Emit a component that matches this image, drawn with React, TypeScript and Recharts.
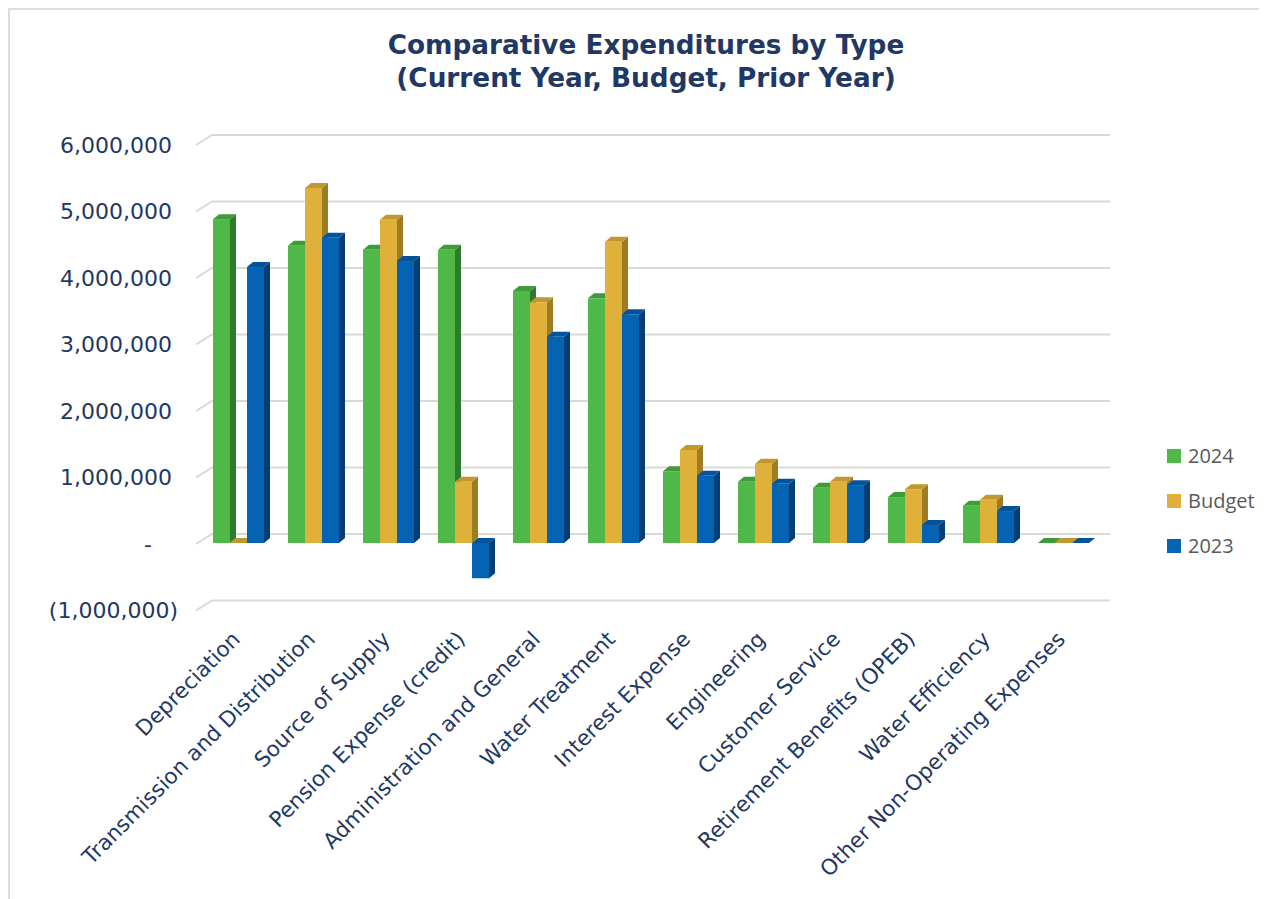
import { BarChart, Bar, XAxis, YAxis, CartesianGrid, Legend } from 'recharts'

const categories = [
  'Depreciation',
  'Transmission and Distribution',
  'Source of Supply',
  'Pension Expense (credit)',
  'Administration and General',
  'Water Treatment',
  'Interest Expense',
  'Engineering',
  'Customer Service',
  'Retirement Benefits (OPEB)',
  'Water Efficiency',
  'Other Non-Operating Expenses',
]

const current2024 = [4870000, 4470000, 4410000, 4410000, 3790000, 3680000, 1080000, 920000, 830000, 690000, 560000, 0]
const budget = [0, 5340000, 4860000, 920000, 3620000, 4530000, 1400000, 1190000, 920000, 810000, 650000, 0]
const prior2023 = [4150000, 4590000, 4240000, -530000, 3100000, 3440000, 1010000, 890000, 870000, 270000, 480000, 0]

const seriesNames = ['2024', 'Budget', '2023']
const seriesColors = ['#50b848', '#e0b13a', '#0563b3']

const yTicks = [-1000000, 0, 1000000, 2000000, 3000000, 4000000, 5000000, 6000000]

const data = categories.map((name, i) => ({
  name,
  current: current2024[i],
  budget: budget[i],
  prior: prior2023[i],
}))

const NAVY = '#1f3864'
const DEPTH_X = 6
const DEPTH_Y = 5

// front / side / top faces for the fake 3D columns
const make3DBar = (front: string, side: string, top: string) => (props: any) => {
  const { x, y, width, height } = props
  const y0 = Math.min(y, y + height)
  const h = Math.abs(height)
  const right = x + width
  const bottom = y0 + h
  return (
    <g>
      <polygon
        points={`${right},${y0} ${right + DEPTH_X},${y0 - DEPTH_Y} ${right + DEPTH_X},${bottom - DEPTH_Y} ${right},${bottom}`}
        fill={side}
      />
      <polygon
        points={`${x},${y0} ${x + DEPTH_X},${y0 - DEPTH_Y} ${right + DEPTH_X},${y0 - DEPTH_Y} ${right},${y0}`}
        fill={top}
      />
      <rect x={x} y={y0} width={width} height={h} fill={front} />
    </g>
  )
}

const formatAccounting = (v: number) => {
  if (v === 0) return '-'
  const s = Math.abs(v).toLocaleString('en-US')
  return v < 0 ? `(${s})` : s
}

const YTick = (props: any) => {
  const { x, y, payload } = props
  const v = payload.value
  const endX = v === 0 ? x - 49 : v < 0 ? x - 23 : x - 29
  return (
    <text x={endX} y={y + 1} dy="0.36em" textAnchor="end" fill={NAVY} fontSize={22} fontFamily="DejaVu Sans">
      {formatAccounting(v)}
    </text>
  )
}

const CategoryTick = (props: any) => {
  const { x, y, payload } = props
  const ax = x + 3
  const ay = y + 23
  return (
    <text
      x={ax}
      y={ay}
      transform={`rotate(-45 ${ax} ${ay})`}
      textAnchor="end"
      fill={NAVY}
      fontSize={21.5}
      fontFamily="DejaVu Sans"
    >
      {payload.value}
    </text>
  )
}

// back-wall gridline with the little diagonal at the left side
const BackGridLine = (props: any) => {
  const { x1, x2, y1 } = props
  return (
    <path
      key={props.key ?? `${y1}`}
      d={`M${x1 - 5},${y1 + 1} L${x1 + 11},${y1 - 9} L${x2 + 9},${y1 - 9}`}
      stroke="#d9d9d9"
      strokeWidth={2}
      fill="none"
    />
  )
}

const LegendContent = () => (
  <div>
    {seriesNames.map((name, i) => (
      <div key={name} style={{ display: 'flex', alignItems: 'center', height: 45 }}>
        <div style={{ width: 14, height: 14, background: seriesColors[i], marginRight: 7 }} />
        <span style={{ fontFamily: 'Open Sans', fontSize: 20, color: '#595959' }}>{name}</span>
      </div>
    ))}
  </div>
)

export default function App() {
  return (
    <div style={{ position: 'relative', width: 1251, height: 891 }}>
      <div
        style={{
          position: 'absolute',
          left: 0,
          top: 0,
          width: 1257,
          height: 900,
          border: '2px solid #dcdcdc',
          boxSizing: 'border-box',
          pointerEvents: 'none',
        }}
      />
      <div
        style={{
          position: 'absolute',
          left: 0,
          top: 21,
          width: 1276,
          textAlign: 'center',
          fontFamily: 'DejaVu Sans',
          fontWeight: 'bold',
          fontSize: 26.3,
          lineHeight: '33px',
          color: NAVY,
        }}
      >
        Comparative Expenditures by Type
        <br />
        (Current Year, Budget, Prior Year)
      </div>
      <BarChart
        width={1251}
        height={891}
        data={data}
        margin={{ top: 136, right: 158, bottom: 0, left: 0 }}
        barCategoryGap="16%"
        barGap={0}
      >
        <CartesianGrid vertical={false} horizontal={BackGridLine} />
        <XAxis
          dataKey="name"
          height={289.5}
          axisLine={false}
          tickLine={false}
          interval={0}
          tick={CategoryTick}
        />
        <YAxis
          width={193}
          domain={[-1000000, 6000000]}
          ticks={yTicks}
          axisLine={false}
          tickLine={false}
          tickSize={0}
          tickMargin={0}
          tick={YTick}
        />
        <Legend
          layout="vertical"
          align="center"
          verticalAlign="middle"
          wrapperStyle={{ left: 1159, top: 425, width: 100, height: 135 }}
          content={LegendContent}
        />
        <Bar dataKey="current" name={seriesNames[0]} fill={seriesColors[0]} isAnimationActive={false} shape={make3DBar(seriesColors[0], '#2f7a2b', '#3f9b39')} />
        <Bar dataKey="budget" name={seriesNames[1]} fill={seriesColors[1]} isAnimationActive={false} shape={make3DBar(seriesColors[1], '#9e7c24', '#c09830')} />
        <Bar dataKey="prior" name={seriesNames[2]} fill={seriesColors[2]} isAnimationActive={false} shape={make3DBar(seriesColors[2], '#033f75', '#04529a')} />
      </BarChart>
    </div>
  )
}
